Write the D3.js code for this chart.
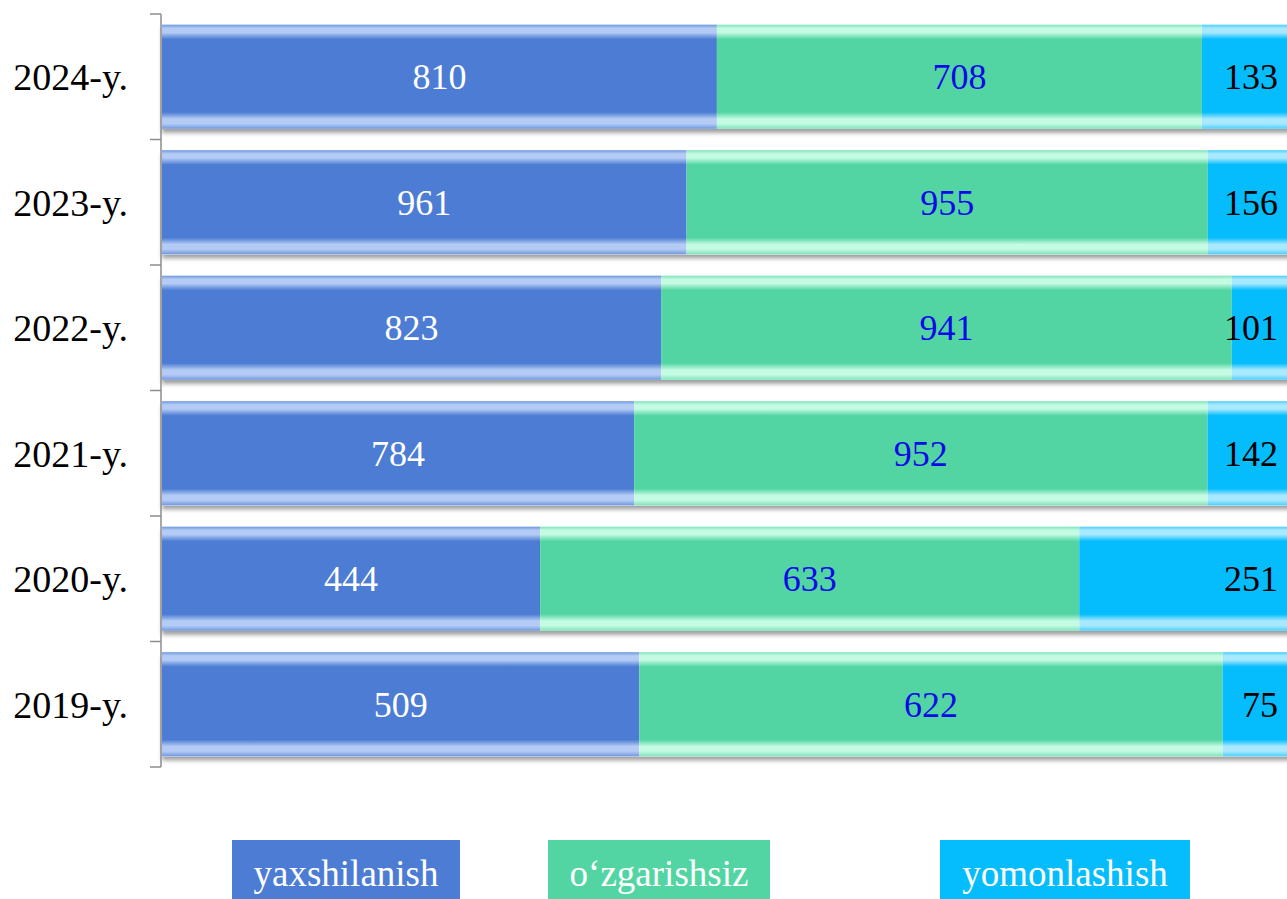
<!DOCTYPE html>
<html>
<head>
<meta charset="utf-8">
<script src="https://cdn.jsdelivr.net/npm/d3@7"></script>
<style>
  html, body { margin: 0; padding: 0; background: #fff; overflow: hidden; }
  svg { display: block; }
</style>
</head>
<body>
<svg id="chart" width="1287" height="899"></svg>
<script>
// Years, top to bottom
const years = ["2024-y.", "2023-y.", "2022-y.", "2021-y.", "2020-y.", "2019-y."];
// Series names
const seriesNames = ["yaxshilanish", "o‘zgarishsiz", "yomonlashish"];
// Values per series, aligned with years
const improved  = [810, 961, 823, 784, 444, 509];
const unchanged = [708, 955, 941, 952, 633, 622];
const worsened  = [133, 156, 101, 142, 251, 75];

const seriesValues = [improved, unchanged, worsened];
const colors = ["#4C7CD3", "#53D5A3", "#05BCFD"];
const highlight = ["#B4CCF5", "#C4FBE2", "#A9E9FF"];
const edge = ["#6F98DE", "#7FE3BC", "#4ACFFD"];
const labelColors = ["#FFFFFF", "#0A0AE6", "#000000"];

const svg = d3.select("#chart");
const font = "'Liberation Serif', 'Times New Roman', serif";

const rows = years.map((y, i) => {
  const r = { year: y };
  seriesNames.forEach((s, k) => r[s] = seriesValues[k][i]);
  r.total = seriesNames.reduce((a, s) => a + r[s], 0);
  return r;
});

const x = d3.scaleLinear().domain([0, 1]).range([162, 1293]);
const y = d3.scaleBand().domain(years).range([14, 767]).paddingInner(0.17).paddingOuter(0.085);

// Glossy vertical gradients for each series
const defs = svg.append("defs");
colors.forEach((c, k) => {
  const g = defs.append("linearGradient")
    .attr("id", "grad" + k).attr("x1", 0).attr("y1", 0).attr("x2", 0).attr("y2", 1);
  [[0, edge[k]], [0.035, highlight[k]], [0.075, highlight[k]], [0.14, c],
   [0.84, c], [0.905, highlight[k]], [0.95, highlight[k]], [1, edge[k]]]
    .forEach(([o, col]) => g.append("stop").attr("offset", o).attr("stop-color", col));
});
const shadow = defs.append("filter").attr("id", "shadow")
  .attr("x", "-5%").attr("y", "-10%").attr("width", "110%").attr("height", "130%");
shadow.append("feDropShadow").attr("dx", 0).attr("dy", 4).attr("stdDeviation", 2.2)
  .attr("flood-color", "#000").attr("flood-opacity", 0.38);

// Normalised stack (share of each year's total)
const stack = d3.stack().keys(seriesNames)
  .value((d, key) => d[key] / d.total);
const layers = stack(rows);

const barGroup = svg.append("g");
// Row shadows
barGroup.selectAll("rect.shadow")
  .data(rows).join("rect")
  .attr("class", "shadow")
  .attr("x", x(0)).attr("width", x(1) - x(0))
  .attr("y", d => y(d.year)).attr("height", y.bandwidth())
  .attr("fill", "#fff").attr("filter", "url(#shadow)");

layers.forEach((layer, k) => {
  const g = barGroup.append("g");
  g.selectAll("rect")
    .data(layer).join("rect")
    .attr("x", d => x(d[0]))
    .attr("width", d => x(d[1]) - x(d[0]))
    .attr("y", d => y(d.data.year))
    .attr("height", y.bandwidth())
    .attr("fill", `url(#grad${k})`);
});

// Value labels: centred in the first two segments, right-aligned in the last
const width = +svg.attr("width");
layers.forEach((layer, k) => {
  const last = k === layers.length - 1;
  svg.append("g").selectAll("text")
    .data(layer).join("text")
    .attr("x", d => last ? width - 9 : (x(d[0]) + x(d[1])) / 2)
    .attr("y", d => y(d.data.year) + y.bandwidth() / 2)
    .attr("dy", "0.35em")
    .attr("text-anchor", last ? "end" : "middle")
    .attr("font-family", font)
    .attr("font-size", 36)
    .attr("fill", labelColors[k])
    .text(d => d.data[seriesNames[k]]);
});

// Category axis
const axis = d3.axisLeft(y).tickSize(0).tickPadding(0).tickFormat("");
const axisG = svg.append("g").attr("transform", "translate(161,0)").call(axis);
axisG.select(".domain").attr("stroke", "#8C8C8C").attr("stroke-width", 1.5)
  .attr("d", "M0,14V767");
// Boundary ticks between categories
const bounds = d3.range(years.length + 1).map(i => 14 + i * y.step());
axisG.selectAll("line.bound").data(bounds).join("line")
  .attr("class", "bound")
  .attr("x1", -11).attr("x2", 0).attr("y1", d => d).attr("y2", d => d)
  .attr("stroke", "#8C8C8C").attr("stroke-width", 1.5);

svg.append("g").selectAll("text")
  .data(years).join("text")
  .attr("x", 128)
  .attr("y", d => y(d) + y.bandwidth() / 2)
  .attr("dy", "0.35em")
  .attr("text-anchor", "end")
  .attr("font-family", font)
  .attr("font-size", 38)
  .attr("fill", "#000")
  .text(d => d);

// Legend
const legendBoxes = [[232, 228], [548, 222], [940, 250]];
const legend = svg.append("g");
seriesNames.forEach((s, k) => {
  const [lx, lw] = legendBoxes[k];
  legend.append("rect").attr("x", lx).attr("y", 840).attr("width", lw).attr("height", 62)
    .attr("fill", colors[k]);
  legend.append("text").attr("x", lx + lw / 2).attr("y", 886)
    .attr("text-anchor", "middle")
    .attr("font-family", font).attr("font-size", 37).attr("fill", "#fff")
    .text(s);
});
</script>
</body>
</html>
